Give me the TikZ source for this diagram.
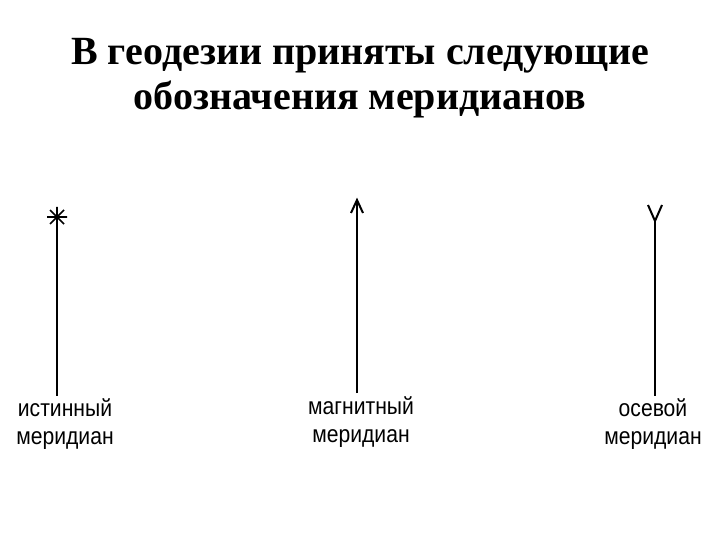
\documentclass[tikz,border=0pt]{standalone}
\usepackage{fontspec}
\setmainfont{Liberation Serif}
\newfontfamily\lab{Liberation Sans}[FakeStretch=0.88]
\begin{document}
\begin{tikzpicture}[x=1pt,y=-1pt,
  title/.style={font=\fontsize{40}{45}\selectfont\bfseries,align=center},
  lbl/.style={font=\fontsize{24}{28}\selectfont\lab,align=center,inner sep=0},
  mer/.style={line width=2pt}]
\useasboundingbox (0,0) rectangle (720,540);
\node[title] (t) at (360,78) {В геодезии приняты следующие\\обозначения меридианов};
% true meridian
\coordinate (a1) at (57,217); \coordinate (a2) at (57,396);
\draw[mer] (a1) -- (a2);
\draw[line width=1.6pt] (47,217)--(67,217) (57,207)--(57,227) (50,210)--(64,224) (50,224)--(64,210);
\node[lbl] (l1) at (65,424) {истинный\\меридиан};
% magnetic
\coordinate (b1) at (357,200); \coordinate (b2) at (357,393);
\draw[mer] (b2) -- (b1);
\draw[mer] (351,213) -- (b1) -- (363,213);
\node[lbl] (l2) at (361,422) {магнитный\\меридиан};
% axial
\coordinate (c1) at (655,221); \coordinate (c2) at (655,396);
\draw[mer] (c1) -- (c2);
\draw[mer] (648,205) -- (c1) -- (662,205);
\node[lbl] (l3) at (653,424) {осевой\\меридиан};
\end{tikzpicture}
\end{document}
